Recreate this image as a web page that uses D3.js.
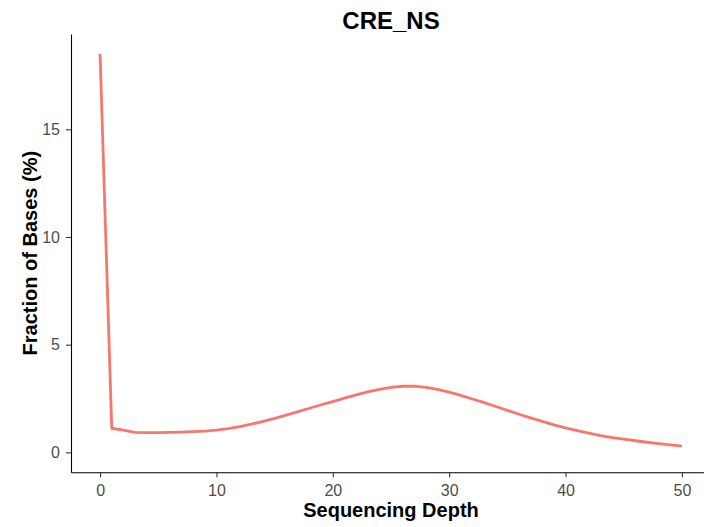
<!DOCTYPE html>
<html>
<head>
<meta charset="utf-8">
<script src="https://cdn.jsdelivr.net/npm/d3@7"></script>
<style>
  body { margin: 0; background: #fff; }
  svg { display: block; font-family: "Liberation Sans", Arial, Helvetica, sans-serif; }
  .tick text { fill: #4d4d4d; font-size: 16px; }
  .tick line { stroke: #333; stroke-width: 1.1; }
  .domain { stroke: #000; stroke-width: 1.1; }
</style>
</head>
<body>
<div id="chart"></div>
<script>
const title = "CRE_NS";
const xLabel = "Sequencing Depth";
const yLabel = "Fraction of Bases (%)";

// sequencing depth 0..50 and fraction of bases at each depth (%)
const depth = d3.range(0, 51);
const fraction = [
  18.5, 1.12, 1.03, 0.93, 0.92, 0.92, 0.93, 0.94, 0.96, 0.99,
  1.03, 1.10, 1.20, 1.31, 1.44, 1.58, 1.73, 1.89, 2.05, 2.21,
  2.36, 2.52, 2.67, 2.81, 2.93, 3.02, 3.07, 3.08, 3.02, 2.92,
  2.80, 2.65, 2.48, 2.31, 2.13, 1.95, 1.77, 1.60, 1.44, 1.28,
  1.14, 1.01, 0.89, 0.78, 0.69, 0.61, 0.54, 0.47, 0.41, 0.35,
  0.29
];
const xTicks = [0, 10, 20, 30, 40, 50];
const yTicks = [0, 5, 10, 15];

const width = 704, height = 527;
const panel = { left: 71, right: 711, top: 34, bottom: 472.3 };

const svg = d3.select("#chart").append("svg")
  .attr("width", width)
  .attr("height", height);

// ggplot-style 5% expansion on both axes
const xPad = 0.05 * (d3.max(depth) - d3.min(depth));
const yMin = Math.min(0, d3.min(fraction)), yMax = d3.max(fraction);
const yPad = 0.05 * (yMax - yMin);

const x = d3.scaleLinear()
  .domain([d3.min(depth) - xPad, d3.max(depth) + xPad])
  .range([panel.left, panel.right]);
const y = d3.scaleLinear()
  .domain([yMin - yPad, yMax + yPad])
  .range([panel.bottom, panel.top]);

const data = depth.map((d, i) => ({ depth: d, value: fraction[i] }));

svg.append("path")
  .datum(data)
  .attr("fill", "none")
  .attr("stroke", "#F8766D")
  .attr("stroke-width", 2.8)
  .attr("stroke-linejoin", "round")
  .attr("d", d3.line().x(d => x(d.depth)).y(d => y(d.value)));

svg.append("g")
  .attr("transform", `translate(0,${panel.bottom})`)
  .call(d3.axisBottom(x).tickValues(xTicks).tickSize(5).tickSizeOuter(0).tickPadding(7))
  .call(g => g.selectAll(".tick text").attr("font-family", null).attr("font-size", null));

svg.append("g")
  .attr("transform", `translate(${panel.left},0)`)
  .call(d3.axisLeft(y).tickValues(yTicks).tickSize(5).tickSizeOuter(0).tickPadding(6))
  .call(g => g.selectAll(".tick text").attr("font-family", null).attr("font-size", null));

svg.append("text")
  .attr("x", (panel.left + panel.right) / 2)
  .attr("y", 29)
  .attr("text-anchor", "middle")
  .attr("font-weight", "bold")
  .attr("font-size", 24)
  .text(title);

svg.append("text")
  .attr("x", (panel.left + panel.right) / 2)
  .attr("y", 517)
  .attr("text-anchor", "middle")
  .attr("font-weight", "bold")
  .attr("font-size", 20)
  .text(xLabel);

svg.append("text")
  .attr("transform", `translate(37,${(panel.top + panel.bottom) / 2}) rotate(-90)`)
  .attr("text-anchor", "middle")
  .attr("font-weight", "bold")
  .attr("font-size", 20)
  .text(yLabel);
</script>
</body>
</html>
